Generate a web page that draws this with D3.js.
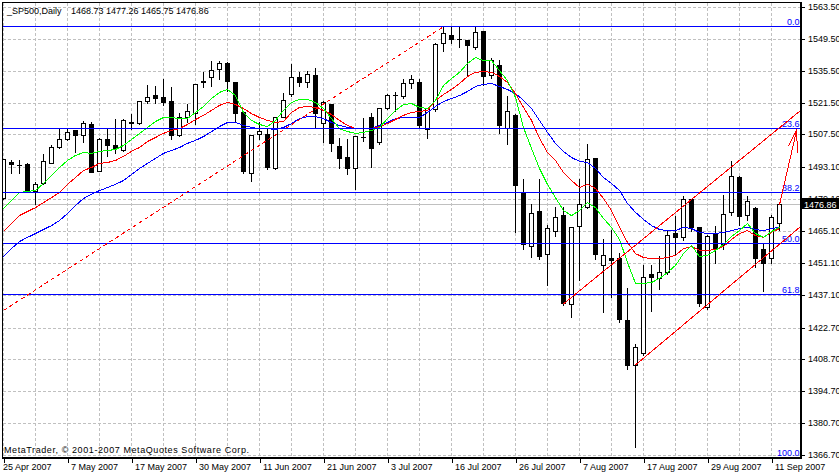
<!DOCTYPE html>
<html><head><meta charset="utf-8">
<script src="https://cdn.jsdelivr.net/npm/d3@7"></script>
<style>
html,body{margin:0;padding:0;background:#fff;}
svg{display:block;font-family:"Liberation Sans",Arial,sans-serif;}
</style></head><body>
<svg id="c" width="839" height="474"></svg>
<script>
const dates = [
"2007-04-25","2007-04-26","2007-04-27","2007-04-30",
"2007-05-01","2007-05-02","2007-05-03","2007-05-04","2007-05-07","2007-05-08","2007-05-09","2007-05-10","2007-05-11",
"2007-05-14","2007-05-15","2007-05-16","2007-05-17","2007-05-18","2007-05-21","2007-05-22","2007-05-23","2007-05-24",
"2007-05-25","2007-05-29","2007-05-30","2007-05-31",
"2007-06-01","2007-06-04","2007-06-05","2007-06-06","2007-06-07","2007-06-08","2007-06-11","2007-06-12","2007-06-13",
"2007-06-14","2007-06-15","2007-06-18","2007-06-19","2007-06-20","2007-06-21","2007-06-22","2007-06-25","2007-06-26",
"2007-06-27","2007-06-28","2007-06-29",
"2007-07-02","2007-07-03","2007-07-05","2007-07-06","2007-07-09","2007-07-10","2007-07-11","2007-07-12","2007-07-13",
"2007-07-16","2007-07-17","2007-07-18","2007-07-19","2007-07-20","2007-07-23","2007-07-24","2007-07-25","2007-07-26",
"2007-07-27","2007-07-30","2007-07-31",
"2007-08-01","2007-08-02","2007-08-03","2007-08-06","2007-08-07","2007-08-08","2007-08-09","2007-08-10","2007-08-13",
"2007-08-14","2007-08-15","2007-08-16","2007-08-17","2007-08-20","2007-08-21","2007-08-22","2007-08-23","2007-08-24",
"2007-08-27","2007-08-28","2007-08-29","2007-08-30","2007-08-31",
"2007-09-04","2007-09-05","2007-09-06","2007-09-07","2007-09-10","2007-09-11","2007-09-12"];

const open = [1479.6,1495.3,1494.1,1494.7,1482.8,1486.1,1495.1,1502.1,1505.4,1509.5,1507.3,1512.1,1491.6,1505.4,1502.9,1500.7,1513.0,1512.4,1522.3,1524.9,
1523.8,1522.3,1507.3,1515.1,1517.1,1530.9,1532.6,1536.1,1539.0,1530.7,1517.5,1490.4,1507.6,1507.7,1492.6,1515.3,1525.2,1532.6,1530.7,1533.6,
1512.4,1520.9,1502.4,1497.6,1492.6,1506.6,1515.3,1504.3,1519.0,1524.9,1524.5,1530.0,1530.6,1509.8,1518.6,1547.6,1551.2,1549.5,1549.0,1545.8,
1553.1,1533.6,1538.1,1510.2,1516.1,1482.4,1458.6,1474.0,1455.0,1465.2,1472.1,1433.0,1467.3,1475.8,1497.3,1450.2,1453.1,1453.1,1425.9,1406.3,
1411.4,1446.2,1444.3,1447.0,1464.1,1462.3,1479.2,1467.0,1431.8,1463.8,1459.4,1473.6,1488.7,1472.1,1475.1,1457.1,1453.1,1468.73];
const high = [1497.2,1496.6,1496.7,1495.5,1487.0,1499.2,1503.3,1510.7,1510.9,1510.0,1513.9,1513.5,1506.3,1510.9,1514.6,1514.6,1516.9,1522.8,1529.7,1529.2,
1532.2,1528.8,1517.5,1521.5,1530.3,1535.5,1540.2,1540.2,1539.6,1531.2,1518.0,1507.8,1513.5,1510.5,1515.8,1526.3,1538.8,1535.5,1535.8,1537.0,
1522.7,1521.5,1506.5,1505.8,1507.2,1515.2,1517.3,1519.5,1525.6,1526.7,1532.2,1534.1,1532.5,1519.5,1548.0,1555.2,1555.2,1555.2,1549.6,1555.2,
1553.5,1541.5,1540.5,1524.9,1517.0,1488.3,1477.5,1488.3,1468.2,1476.1,1476.0,1467.5,1488.3,1503.9,1497.5,1462.0,1466.0,1456.0,1440.6,1415.8,
1450.6,1450.6,1454.6,1466.0,1472.1,1481.0,1479.5,1467.5,1464.0,1467.7,1481.4,1496.3,1489.5,1480.9,1476.0,1460.0,1472.5,1477.26];
const low = [1479.0,1490.7,1490.6,1482.3,1476.8,1485.8,1494.8,1501.5,1505.0,1499.9,1504.0,1490.8,1491.3,1498.2,1499.5,1500.4,1510.0,1512.0,1521.2,1521.2,
1520.5,1505.5,1506.8,1512.8,1512.0,1528.2,1528.8,1531.7,1526.5,1513.6,1490.5,1487.1,1505.4,1492.3,1492.3,1515.0,1524.5,1528.8,1528.5,1511.0,
1504.3,1500.4,1492.6,1490.1,1483.6,1504.6,1493.4,1503.4,1518.5,1518.0,1523.5,1528.0,1510.9,1505.9,1518.0,1544.3,1547.6,1546.1,1533.6,1545.0,
1529.2,1532.5,1508.3,1503.3,1464.8,1457.0,1453.8,1453.0,1441.4,1463.0,1432.5,1427.2,1443.6,1475.0,1453.0,1429.7,1436.0,1425.0,1404.3,1370.3,
1410.5,1430.1,1439.5,1446.0,1455.0,1461.0,1465.0,1432.0,1431.0,1450.9,1457.0,1472.0,1467.7,1470.0,1449.3,1438.9,1451.0,1465.75];
const close = [1496.7,1494.4,1494.0,1482.7,1485.6,1495.7,1502.1,1505.4,1508.7,1507.3,1512.4,1491.2,1505.4,1502.9,1501.4,1513.9,1512.7,1522.3,1524.1,1523.7,
1521.9,1507.3,1515.3,1517.8,1529.5,1530.7,1535.8,1539.0,1531.1,1516.8,1491.6,1507.3,1509.0,1493.1,1515.3,1522.7,1532.6,1530.7,1534.1,1516.8,
1521.9,1503.9,1497.3,1492.9,1506.8,1506.4,1501.7,1519.0,1524.9,1525.0,1530.0,1531.7,1511.7,1519.0,1547.3,1552.0,1549.3,1549.4,1546.8,1552.4,
1533.2,1540.2,1511.7,1517.8,1485.3,1459.3,1472.9,1454.2,1466.3,1471.4,1433.3,1466.7,1476.8,1496.6,1455.0,1454.6,1452.3,1426.3,1406.3,1414.3,
1444.8,1445.0,1447.0,1463.3,1462.6,1479.2,1466.8,1433.3,1463.0,1457.5,1472.6,1489.3,1471.8,1478.3,1453.1,1451.2,1471.4,1476.86];

// moving averages (green / red / blue)
const maGreen = [1475.1,1478.7,1482.2,1482.7,1483.1,1486.2,1489.7,1493.2,1496.3,1498.5,1499.8,1499.4,1500.3,1500.7,1501.1,1502.9,1505.5,1508.2,1510.8,1513.4,
1515.2,1515.2,1514.7,1514.7,1517.4,1520.0,1523.5,1526.2,1527.5,1524.8,1517.4,1513.9,1512.1,1511.2,1513.9,1518.3,1521.8,1523.1,1523.1,1521.8,
1519.1,1514.7,1510.3,1509.0,1508.2,1508.6,1509.5,1510.8,1514.7,1518.3,1520.9,1521.3,1519.6,1519.1,1522.7,1529.2,1532.3,1535.0,1538.9,1541.5,
1540.2,1540.2,1535.8,1531.4,1524.0,1510.8,1501.6,1492.8,1485.8,1480.0,1474.3,1472.1,1474.3,1477.8,1475.6,1470.8,1466.9,1461.6,1451.5,1442.3,
1442.3,1442.7,1444.5,1447.1,1450.2,1455.4,1459.0,1454.1,1454.6,1456.8,1459.4,1462.9,1465.5,1468.6,1464.2,1462.5,1465.1,1466.9];
const maRed = [1465.1,1468.6,1472.1,1473.9,1475.6,1477.8,1480.0,1482.2,1485.8,1488.8,1491.9,1493.2,1495.0,1495.4,1496.3,1498.1,1500.3,1502.0,1504.6,1506.4,
1508.2,1509.5,1510.3,1512.1,1514.3,1516.1,1518.3,1520.5,1521.8,1520.9,1519.1,1516.9,1515.2,1513.9,1513.0,1513.4,1517.4,1519.6,1520.0,1519.6,
1518.3,1516.5,1513.9,1511.7,1510.3,1510.3,1510.3,1511.2,1512.5,1514.3,1516.1,1517.4,1517.8,1518.3,1522.7,1525.3,1527.5,1530.1,1533.2,1535.0,
1535.4,1535.0,1533.2,1530.6,1525.7,1519.6,1513.9,1506.0,1499.8,1496.3,1491.0,1487.5,1484.4,1485.8,1484.0,1479.6,1474.3,1466.9,1460.3,1455.4,
1453.7,1453.2,1453.2,1453.7,1454.6,1457.6,1458.5,1456.8,1456.8,1457.2,1458.5,1461.6,1464.2,1465.5,1463.3,1462.5,1464.7,1466.4];
const maBlue = [1454.1,1457.6,1460.7,1462.5,1464.2,1466.0,1467.7,1469.9,1473.0,1476.5,1479.6,1481.4,1483.1,1484.4,1485.8,1487.5,1490.1,1492.8,1495.0,1497.2,
1499.4,1500.7,1502.0,1503.8,1505.1,1506.8,1509.0,1511.2,1513.0,1513.0,1511.7,1510.8,1510.3,1510.3,1509.9,1510.8,1512.5,1514.7,1515.6,1515.6,
1514.7,1513.0,1511.7,1510.8,1510.3,1510.3,1510.3,1511.7,1513.0,1514.7,1515.2,1515.2,1515.2,1517.4,1520.0,1522.2,1523.5,1524.8,1526.6,1528.8,
1529.7,1530.1,1528.8,1527.5,1525.7,1522.7,1519.1,1513.9,1508.6,1503.8,1500.3,1497.6,1495.9,1495.4,1492.8,1488.8,1486.2,1483.1,1477.4,1473.5,
1470.4,1467.7,1466.0,1465.5,1465.5,1466.9,1466.4,1464.7,1464.2,1464.2,1464.7,1465.5,1466.4,1466.9,1466.0,1465.5,1466.4,1466.9];

const yTickValues = [1563.50,1549.50,1535.50,1521.50,1507.50,1493.10,1479.10,1465.10,1451.10,1437.10,1422.70,1408.70,1394.70,1380.70,1366.70];
const xTickDates = ["2007-04-25","2007-05-07","2007-05-17","2007-05-30","2007-06-11","2007-06-21","2007-07-03","2007-07-16","2007-07-26","2007-08-07","2007-08-17","2007-08-29","2007-09-11"];
const xTickLabels = ["25 Apr 2007","7 May 2007","17 May 2007","30 May 2007","11 Jun 2007","21 Jun 2007","3 Jul 2007","16 Jul 2007","26 Jul 2007","7 Aug 2007","17 Aug 2007","29 Aug 2007","11 Sep 2007"];

const fibLevels = [0.0, 23.6, 38.2, 50.0, 61.8, 100.0];
const fibHigh = 1555.2, fibLow = 1364.7;

// trend objects: [bar index, price]
const dashedTrend = [[0, 1430.4], [55, 1555.1]];
const channelUpper = [[70, 1433.3], [97, 1510.7]];
const channelLower = [[79, 1406.5], [97, 1459.5]];
const arrowPts = [[97, 1476.86], [99.15, 1509.7]];

const symbolLabel = "_SP500,Daily";
const ohlcLabel = "1468.73 1477.26 1465.75 1476.86";
const copyright = "MetaTrader, \u00A9 2001-2007 MetaQuotes Software Corp.";

// ---------------------------------------------------------------
const svg = d3.select("#c");
const x = d3.scalePoint().domain(dates).range([3.5, 779.5]);
const y = d3.scaleLinear().domain([1366.70, 1563.50]).range([455.5, 7.5]);
const step = x.step();
const xi = i => x(dates[0]) + i * step;
const py = v => Math.floor(y(v)) + 0.5;

svg.append("defs").append("clipPath").attr("id","plot")
  .append("rect").attr("x",3).attr("y",3).attr("width",797).attr("height",454);

// grid
const grid = svg.append("g").attr("stroke","#c0c0c0").attr("stroke-dasharray","3,2").attr("shape-rendering","crispEdges");
yTickValues.forEach(v => grid.append("line").attr("x1",3).attr("x2",800).attr("y1",py(v)).attr("y2",py(v)));
dates.forEach((d,i) => { if (i % 4 === 0) grid.append("line").attr("x1",x(d)).attr("x2",x(d)).attr("y1",3).attr("y2",457); });

const plot = svg.append("g").attr("clip-path","url(#plot)");

// bid line
plot.append("line").attr("x1",3).attr("x2",800).attr("y1",py(close[close.length-1])).attr("y2",py(close[close.length-1]))
  .attr("stroke","#c0c0c0").attr("shape-rendering","crispEdges");

// candles
const cg = plot.append("g").attr("shape-rendering","crispEdges");
dates.forEach((d,i) => {
  const cx = x(d);
  cg.append("line").attr("x1",cx).attr("x2",cx).attr("y1",py(high[i])).attr("y2",py(low[i])+0.5).attr("stroke","#000");
  const top = py(Math.max(open[i],close[i])), bot = py(Math.min(open[i],close[i]));
  if (bot - top < 1) {
    cg.append("line").attr("x1",cx-2.5).attr("x2",cx+2.5).attr("y1",top).attr("y2",top).attr("stroke","#000");
  } else {
    cg.append("rect").attr("x",cx-2).attr("y",top).attr("width",4).attr("height",bot-top)
      .attr("fill", close[i] >= open[i] ? "#fff" : "#000").attr("stroke","#000");
  }
});

// moving averages
const maLine = d3.line().x((v,i) => x(dates[i])).y(v => y(v));
[[maBlue,"#0000ff"],[maRed,"#ff0000"],[maGreen,"#00ff00"]].forEach(([s,c]) => {
  plot.append("path").attr("d", maLine(s)).attr("fill","none").attr("stroke",c).attr("stroke-width",1).attr("shape-rendering","crispEdges");
});

// fibonacci
const fg = plot.append("g");
fibLevels.forEach(l => {
  const p = fibHigh - (fibHigh - fibLow) * l / 100;
  fg.append("line").attr("x1",3).attr("x2",800).attr("y1",py(p)).attr("y2",py(p))
    .attr("stroke","#0000ff").attr("shape-rendering","crispEdges");
  fg.append("text").attr("x",799.5).attr("y",Math.min(py(p) - 2, 456)).attr("text-anchor","end")
    .attr("font-size",9).attr("fill","#0000ff").text(l.toFixed(1));
});

// trend lines
function extended(pts, toRight) {
  const [a,b] = pts;
  const x1 = xi(a[0]), y1 = y(a[1]), x2 = xi(b[0]), y2 = y(b[1]);
  if (!toRight) return [[x1,y1],[x2,y2]];
  const s = (y2 - y1) / (x2 - x1);
  return [[x1,y1],[801, y1 + s * (801 - x1)]];
}
const tl = d3.line();
plot.append("path").attr("d", tl(extended(dashedTrend,false))).attr("stroke","#ff0000").attr("fill","none")
  .attr("stroke-dasharray","4,3").attr("shape-rendering","crispEdges");
plot.append("path").attr("d", tl(extended(channelUpper,true))).attr("stroke","#ff0000").attr("fill","none").attr("shape-rendering","crispEdges");
plot.append("path").attr("d", tl(extended(channelLower,true))).attr("stroke","#ff0000").attr("fill","none").attr("shape-rendering","crispEdges");

// arrow
{
  const s = [xi(arrowPts[0][0]), y(arrowPts[0][1])];
  const t = [xi(arrowPts[1][0]), y(arrowPts[1][1])];
  const ang = Math.atan2(s[1]-t[1], s[0]-t[0]);
  const w1 = [t[0] + 18*Math.cos(ang+0.255), t[1] + 18*Math.sin(ang+0.255)];
  const w2 = [t[0] + 23*Math.cos(ang-0.255), t[1] + 23*Math.sin(ang-0.255)];
  const ag = plot.append("g").attr("stroke","#ff0000").attr("fill","none").attr("shape-rendering","crispEdges");
  ag.append("path").attr("d", tl([s,t]));
  ag.append("path").attr("d", tl([w1,t,w2]));
}

// frame
const frame = svg.append("g").attr("stroke","#000").attr("shape-rendering","crispEdges");
frame.append("line").attr("x1",2.5).attr("x2",2.5).attr("y1",2).attr("y2",459);
frame.append("line").attr("x1",2).attr("x2",802).attr("y1",2.5).attr("y2",2.5);
frame.append("line").attr("x1",801).attr("x2",801).attr("y1",2).attr("y2",459).attr("stroke-width",2);
frame.append("line").attr("x1",2).attr("x2",802).attr("y1",458).attr("y2",458).attr("stroke-width",2);

// right axis
const yAxis = d3.axisRight(y).tickValues(yTickValues).tickSize(4).tickFormat(d3.format(".2f"));
const ya = svg.append("g").attr("transform","translate(801,0)").call(yAxis);
ya.select(".domain").remove();
ya.selectAll(".tick").attr("transform", d => `translate(0,${py(d)})`);
ya.selectAll(".tick line").attr("stroke","#000").attr("shape-rendering","crispEdges");
ya.selectAll(".tick text").attr("font-size",9).attr("font-family","Liberation Sans, Arial, sans-serif").attr("fill","#000").attr("x",7).attr("dy","0.3em");

// bottom axis
const xAxis = d3.axisBottom(x).tickValues(xTickDates).tickSize(4).tickFormat((d,i) => xTickLabels[i]);
const xa = svg.append("g").attr("transform","translate(0,459)").call(xAxis);
xa.select(".domain").remove();
xa.selectAll(".tick line").attr("stroke","#000").attr("shape-rendering","crispEdges");
xa.selectAll(".tick text").attr("font-size",9).attr("font-family","Liberation Sans, Arial, sans-serif").attr("fill","#000")
  .attr("text-anchor","start").attr("x",(d,i) => i === 0 ? -1 : 3).attr("y",11).attr("dy",0);

// current price tag
{
  const cp = close[close.length-1];
  const yy = py(cp);
  svg.append("rect").attr("x",802).attr("y",yy-6.5).attr("width",37).attr("height",11).attr("fill","#000");
  svg.append("text").attr("x",804).attr("y",yy+3).attr("font-size",9).attr("fill","#fff").text(cp.toFixed(2));
}

// header & copyright
svg.append("text").attr("x",7).attr("y",14).attr("font-size",9).attr("fill","#000").text(symbolLabel);
svg.append("text").attr("x",71).attr("y",14).attr("font-size",9).attr("fill","#000").text(ohlcLabel);
svg.append("text").attr("x",4).attr("y",452.5).attr("font-size",9).attr("fill","#000")
  .attr("textLength",245).attr("lengthAdjust","spacing").text(copyright);
</script>
</body></html>
